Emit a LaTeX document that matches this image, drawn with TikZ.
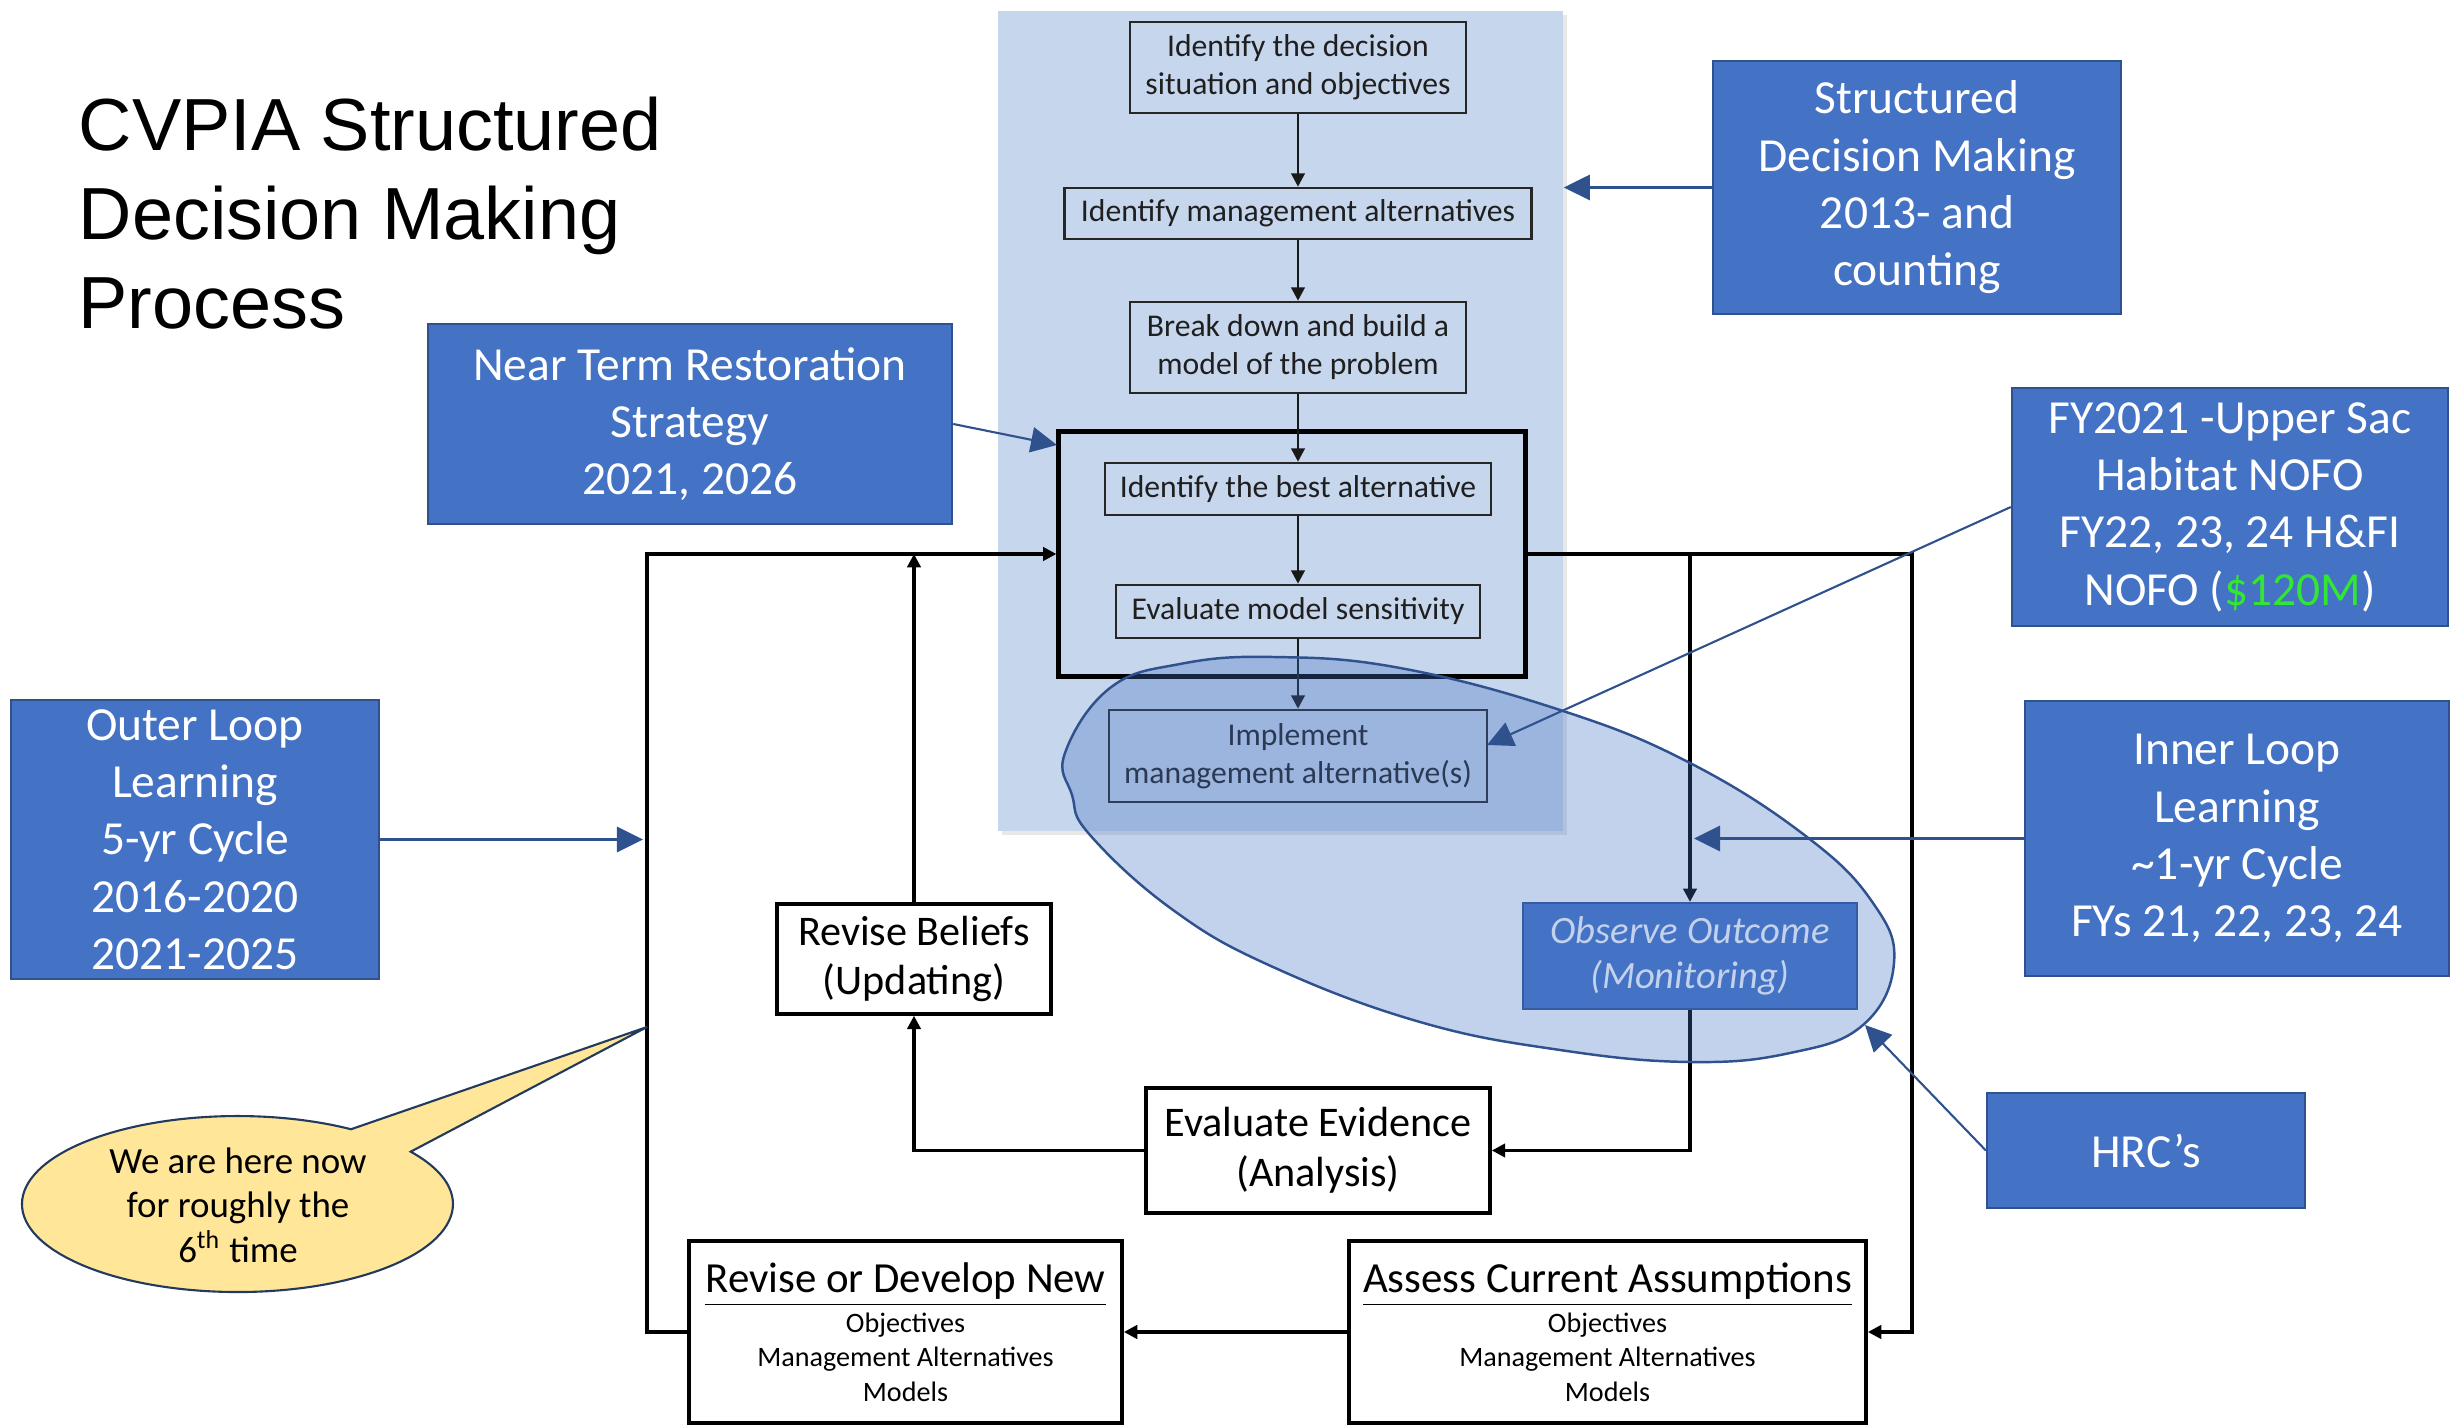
\documentclass[tikz,border=0pt]{standalone}
\usepackage{fontspec}
\setmainfont{Carlito}
\newfontfamily\titlefont{Liberation Sans}
\usetikzlibrary{arrows.meta,shadows}
\definecolor{boxblue}{HTML}{4472C4}
\definecolor{edgeblue}{HTML}{2F528F}
\definecolor{panelblue}{HTML}{C6D6ED}
\definecolor{calloutyellow}{HTML}{FFE699}
\definecolor{calloutedge}{HTML}{223A5E}
\definecolor{moneygreen}{HTML}{33E633}
\begin{document}
\begin{tikzpicture}[x=0.01cm,y=-0.01cm,
  panelnode/.style={fill=panelblue, draw=none, inner sep=0pt,
    drop shadow={shadow xshift=1.2pt, shadow yshift=-1.2pt, opacity=0.18}},
  innerbox/.style={draw=black!85, line width=0.7pt, text=black!88, align=center,
    inner sep=0pt, font=\fontsize{9}{10.8}\selectfont},
  bigbox/.style={draw=black, line width=1.4pt, inner sep=0pt},
  bluebox/.style={draw=edgeblue, line width=0.6pt, fill=boxblue, text=white,
    align=center, inner sep=0pt, font=\fontsize{13.5}{16.3}\selectfont},
  flowbox/.style={draw=black, line width=1pt, fill=white, align=center,
    inner sep=0pt, font=\fontsize{12}{14.2}\selectfont},
  flowarrow/.style={draw=black, line width=0.9pt, -{Triangle[length=3.8pt,width=3.8pt]}},
  innerarrow/.style={draw=black!90, line width=0.8pt, -{Triangle[length=3.8pt,width=3.8pt]}},
  bluearrow/.style={draw=edgeblue, line width=0.6pt, -{Triangle[length=7.4pt,width=7.2pt]}},
  smallfont/.style={font=\fontsize{8}{9.8}\selectfont}
]
\useasboundingbox (0,0) rectangle (2453,1425);

% title
\node[anchor=north west, inner sep=0pt, align=left,
  font=\titlefont\fontsize{21}{25.3}\selectfont] (title) at (78,96)
  {CVPIA Structured\\Decision Making\\Process};

% panel with the structured decision making steps
\node[panelnode, minimum width=5.65cm, minimum height=8.20cm] (panel) at (1280.5,421) {};
\node[innerbox, minimum width=3.36cm, minimum height=0.91cm] (b1) at (1298,67.5)
  {Identify the decision\\situation and objectives};
\node[innerbox, minimum width=4.67cm, minimum height=0.51cm] (b2) at (1298,213.5)
  {Identify management alternatives};
\node[innerbox, minimum width=3.36cm, minimum height=0.91cm] (b3) at (1298,347.5)
  {Break down and build a\\model of the problem};
\node[bigbox, minimum width=4.66cm, minimum height=2.44cm] (big) at (1292,554) {};
\node[innerbox, minimum width=3.86cm, minimum height=0.52cm] (b4) at (1298,489)
  {Identify the best alternative};
\node[innerbox, minimum width=3.64cm, minimum height=0.53cm] (b5) at (1298,611.5)
  {Evaluate model sensitivity};
\node[innerbox, minimum width=3.78cm, minimum height=0.92cm] (b6) at (1298,756)
  {Implement\\management alternative(s)};

\draw[innerarrow] (b1.south) -- (b2.north);
\draw[innerarrow] (b2.south) -- (b3.north);
\draw[innerarrow] (b3.south) -- (b4.north);
\draw[innerarrow] (b4.south) -- (b5.north);
\draw[innerarrow] (b5.south) -- (b6.north);

% adaptive management loop boxes
\node[draw=edgeblue, line width=0.6pt, fill=boxblue, text=white, align=center, inner sep=0pt,
  font=\itshape\fontsize{11}{12.8}\selectfont, minimum width=3.34cm, minimum height=1.06cm]
  (obs) at (1690,956) {Observe Outcome\\(Monitoring)};
\node[flowbox, minimum width=3.44cm, minimum height=1.25cm] (ev) at (1318,1150.5)
  {Evaluate Evidence\\(Analysis)};
\node[flowbox, minimum width=2.74cm, minimum height=1.10cm] (rb) at (914,959)
  {Revise Beliefs\\(Updating)};
\node[flowbox, smallfont, minimum width=4.33cm, minimum height=1.82cm] (rev) at (905.5,1332)
  {{\fontsize{12.2}{15}\selectfont\underline{Revise or Develop New}}\\[1.5pt]
   Objectives\\Management Alternatives\\Models};
\node[flowbox, smallfont, minimum width=5.17cm, minimum height=1.82cm] (as) at (1607.5,1332)
  {{\fontsize{12.2}{15}\selectfont\underline{Assess Current Assumptions}}\\[1.5pt]
   Objectives\\Management Alternatives\\Models};

\coordinate (lc) at (647,554);
\coordinate (rc) at (1912,554);
\draw[flowarrow] (rev.west) -| (lc) -- (big.west);
\draw[flowarrow] (big.east) -- (rc) |- (as.east);
\draw[flowarrow] (obs.north |- big.east) -- (obs.north);
\draw[flowarrow] (obs.south) |- (ev.east);
\draw[flowarrow] (ev.west) -| (rb.south);
\draw[flowarrow] (rb.north) -- (rb.north |- big.west);
\draw[flowarrow] (as.west) -- (rev.east);

% inner loop highlight
\path[fill=boxblue, fill opacity=0.32, draw=edgeblue, draw opacity=1, line width=0.7pt]
  plot[smooth cycle, tension=0.7] coordinates {
   (1065,753) (1110,688) (1180,664) (1273,657) (1400,668) (1560,710) (1690,763)
   (1807,837) (1873,903) (1894,963) (1863,1025) (1790,1053) (1690,1062)
   (1560,1050) (1420,1022) (1273,967) (1173,910) (1090,835) (1072,795)};

% blue annotation boxes
\node[bluebox, minimum width=4.08cm, minimum height=2.53cm] (sdm) at (1917,187.5)
  {Structured\\Decision Making\\2013- and\\counting};
\node[bluebox, minimum width=5.24cm, minimum height=2.00cm] (nt) at (690,424)
  {Near Term Restoration\\Strategy\\2021, 2026};
\node[bluebox, minimum width=4.36cm, minimum height=2.38cm] (fy) at (2230,507)
  {FY2021 -Upper Sac\\Habitat NOFO\\FY22, 23, 24 H\&FI\\NOFO ({\color{moneygreen}\$120M})};
\node[bluebox, minimum width=4.24cm, minimum height=2.75cm] (il) at (2237,838.5)
  {Inner Loop\\Learning\\\textasciitilde1-yr Cycle\\FYs 21, 22, 23, 24};
\node[bluebox, minimum width=3.18cm, minimum height=1.15cm] (hrc) at (2146,1150.5)
  {HRC’s};
\node[bluebox, minimum width=3.68cm, minimum height=2.79cm] (ol) at (195,839.5)
  {Outer Loop\\Learning\\5-yr Cycle\\2016-2020\\2021-2025};

\coordinate (ntt) at (1057,445);
\coordinate (fyt) at (1487,745);
\coordinate (ilt) at (1694,838.5);
\coordinate (hrct) at (1865,1025);
\coordinate (olt) at (643,839.5);
\draw[bluearrow] (sdm.west) -- (sdm.west -| panel.east);
\draw[bluearrow] (nt.east) -- (ntt);
\draw[bluearrow] (fy.west) -- (fyt);
\draw[bluearrow] (il.west) -- (ilt);
\draw[bluearrow] (hrc.west) -- (hrct);
\draw[bluearrow] (ol.east) -- (olt);

% callout
\draw[fill=calloutyellow, draw=calloutedge, line width=0.6pt, line join=miter]
  (410.7,1151.7) arc[start angle=-36.5, end angle=301.8, x radius=215.5, y radius=88]
  -- (647,1027) -- cycle;
\node[align=center, inner sep=0pt, font=\fontsize{10.5}{12.7}\selectfont] (callout) at (238,1205)
  {We are here now\\for roughly the\\6\textsuperscript{th} time};
\end{tikzpicture}
\end{document}
